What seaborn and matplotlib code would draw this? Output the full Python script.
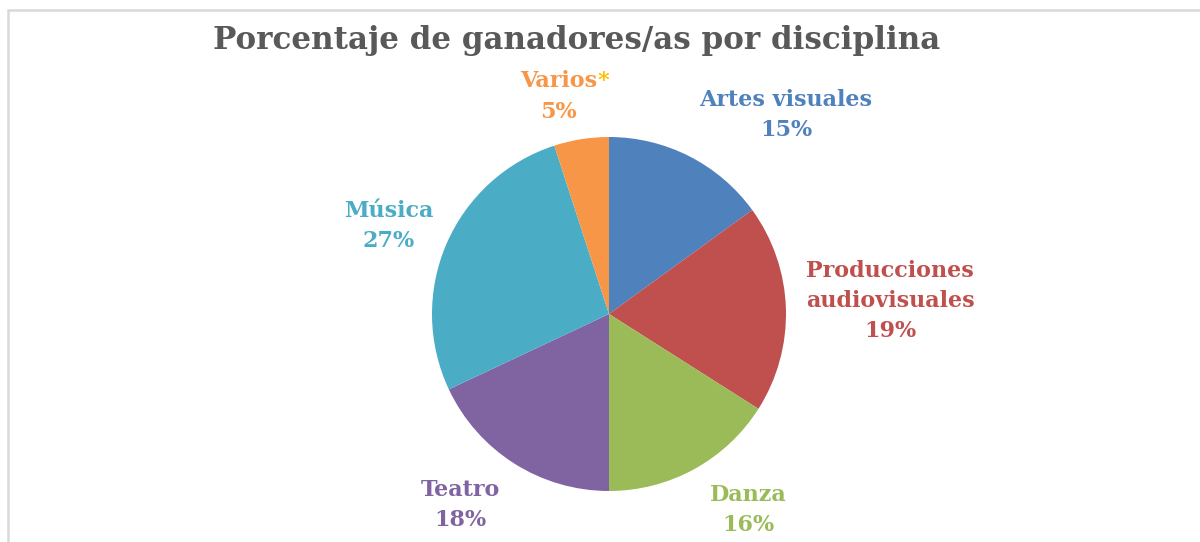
import matplotlib
matplotlib.use("Agg")
import matplotlib.pyplot as plt
import seaborn as sns
from matplotlib.patches import Rectangle

# data
disciplinas = ["Artes visuales", "Producciones\naudiovisuales", "Danza", "Teatro", "Música", "Varios"]
porcentajes = [15, 19, 16, 18, 27, 5]
colores = ["#4F81BD", "#C0504D", "#9BBB59", "#8064A2", "#4BACC6", "#F79646"]

sns.set_theme(style="white")
plt.rcParams['font.family'] = ['DejaVu Serif']

W, H = 1200, 542
fig = plt.figure(figsize=(W / 100, H / 100), dpi=100)
ax = fig.add_axes([0, 0, 1, 1])

# pie in pixel coordinates (y up)
cx, cy, r = 609, H - 314, 177
ax.pie(porcentajes, colors=colores, startangle=90, counterclock=False,
       center=(cx, cy), radius=r, wedgeprops=dict(linewidth=0))
ax.set_xlim(0, W)
ax.set_ylim(0, H)
ax.set_aspect("equal")
ax.axis("off")

# chart frame (light grey, runs off right/bottom edges)
ax.add_patch(Rectangle((8, -20), W + 20, H - 10 + 20, fill=False,
                       edgecolor="#D9D9D9", linewidth=1.8, clip_on=False))

ax.text(577, H - 40, "Porcentaje de ganadores/as por disciplina",
        ha="center", va="center", fontsize=22.3, fontweight="bold", color="#595959")

# label anchor (pixel centre of the label block)
label_pos = [(786, 115), (890, 301), (748, 510), (460, 505), (389, 226), (560, 97)]
fs = 16
lbl_kw = dict(ha="center", va="center", fontsize=fs, fontweight="bold", linespacing=1.45)
for name, pct, col, (lx, ly) in zip(disciplinas, porcentajes, colores, label_pos):
    if name == "Varios":
        ax.text(597, H - 81, "Varios", color=col, ha="right", va="center",
                fontsize=fs, fontweight="bold")
        ax.text(597, H - 81, "*", color="#FFC000", ha="left", va="center",
                fontsize=fs, fontweight="bold")
        ax.text(558, H - 112, f"{pct}%", color=col, ha="center", va="center",
                fontsize=fs, fontweight="bold")
    else:
        ax.text(lx, H - ly, f"{name}\n{pct}%", color=col, **lbl_kw)

fig.savefig("out.png", dpi=100)
